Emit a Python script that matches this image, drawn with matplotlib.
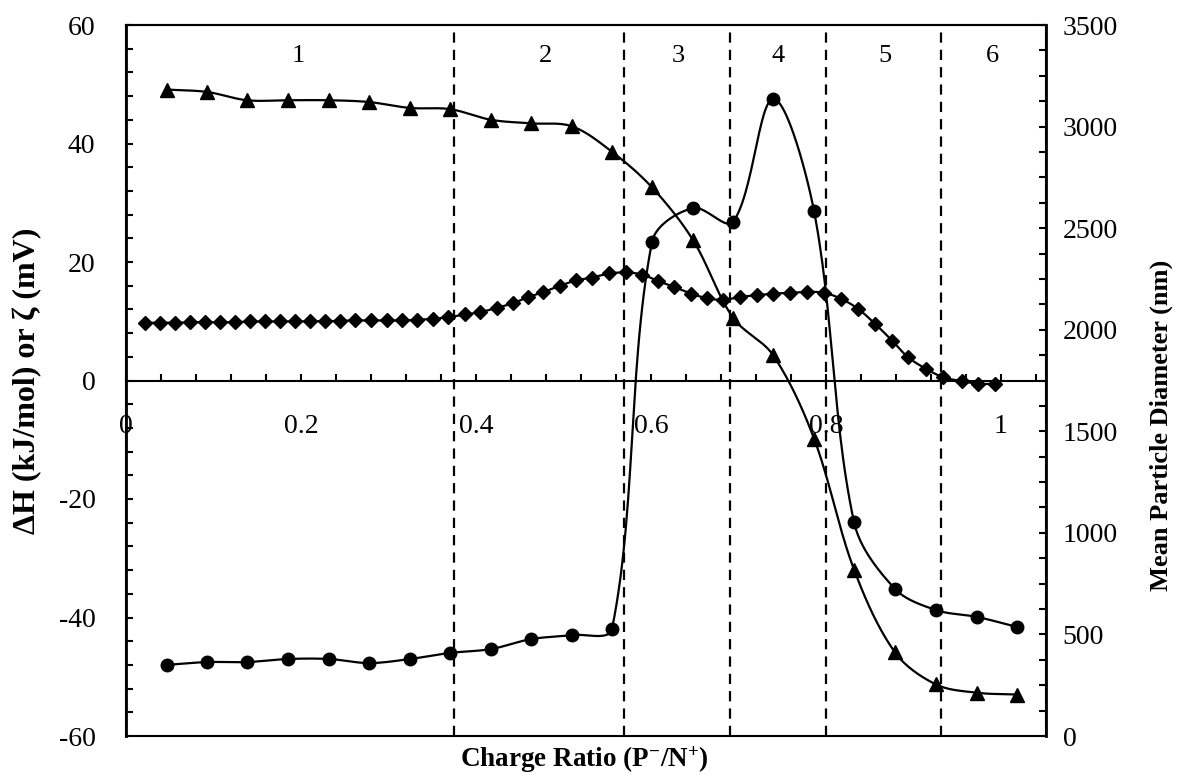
import numpy as np
import matplotlib
matplotlib.use("Agg")
import matplotlib.pyplot as plt
from matplotlib.ticker import MultipleLocator

plt.rcParams['font.family'] = ['Liberation Serif', 'DejaVu Serif']
plt.rcParams['mathtext.default'] = 'regular'
plt.rcParams['axes.unicode_minus'] = False

# Charge ratios for the enthalpy and particle-size series
ratio = [0.0469, 0.0926, 0.1383, 0.1851, 0.2320, 0.2777, 0.3246, 0.3703,
         0.4171, 0.4629, 0.5097, 0.5554, 0.6011, 0.6480, 0.6937, 0.7394,
         0.7863, 0.8320, 0.8789, 0.9257, 0.9726, 1.0183]

# Enthalpy change (kJ/mol), left axis
dH = [49.1, 48.7, 47.3, 47.3, 47.3, 47.0, 46.0, 45.8, 44.0, 43.4, 42.9,
      38.6, 32.6, 23.7, 10.6, 4.3, -9.8, -31.9, -45.9, -51.3, -52.7, -53.0]

# Mean particle diameter (nm), right axis
diameter = [350, 364, 364, 379, 379, 359, 379, 409, 428, 477, 497, 527,
            2432, 2599, 2530, 3136, 2584, 1053, 724, 620, 586, 537]

# Zeta potential (mV), left axis, measured at its own charge ratios
zeta_ratio = [0.0217, 0.0389, 0.0560, 0.0731, 0.0903, 0.1074, 0.1246,
              0.1417, 0.1589, 0.1760, 0.1931, 0.2103, 0.2274, 0.2446,
              0.2617, 0.2800, 0.2983, 0.3154, 0.3326, 0.3509, 0.3680,
              0.3874, 0.4046, 0.4240, 0.4423, 0.4594, 0.4766, 0.4960,
              0.5143, 0.5326, 0.5520, 0.5714, 0.5897, 0.6080, 0.6263,
              0.6457, 0.6640, 0.6823, 0.7017, 0.7211, 0.7394, 0.7589,
              0.7783, 0.7977, 0.8171, 0.8366, 0.8560, 0.8754, 0.8937,
              0.9143, 0.9337, 0.9554, 0.9737, 0.9931]
zeta = [9.74, 9.74, 9.74, 9.84, 9.84, 9.84, 9.84, 9.96, 9.96, 9.96, 10.0,
        10.0, 10.0, 10.08, 10.13, 10.13, 10.13, 10.13, 10.24, 10.41, 10.68,
        11.14, 11.53, 12.27, 13.05, 14.06, 14.9, 16.0, 16.88, 17.38, 18.06,
        18.23, 17.89, 16.8, 15.8, 14.65, 13.9, 13.6, 14.1, 14.4, 14.65,
        14.8, 14.97, 14.8, 13.8, 12.1, 9.57, 6.75, 3.93, 1.97, 0.56, -0.12,
        -0.56, -0.56]

# Region boundaries and region numbers
boundaries = [0.375, 0.569, 0.690, 0.800, 0.931]
region_pos = [0.197, 0.479, 0.631, 0.745, 0.867, 0.990]
region_names = ['1', '2', '3', '4', '5', '6']

XLIM = (0, 1.0514)
YLIM = (-60, 60)
Y2LIM = (0, 3500)
AX_W, AX_H = 920, 711  # axes box size in pixels


def smooth(x, y, ylim, n=30):
    """Smoothed line through the points: cubic Bezier segments whose
    tangents follow the neighbours, scaled by on-screen chord lengths."""
    sx = AX_W / (XLIM[1] - XLIM[0])
    sy = AX_H / (ylim[1] - ylim[0])
    pts = np.column_stack([np.asarray(x) * sx, np.asarray(y) * sy])
    P = np.vstack([pts[0], pts, pts[-1]])
    t = np.linspace(0, 1, n)[:, None]
    segs = []
    for i in range(1, len(P) - 2):
        p0, p1, p2, p3 = P[i - 1], P[i], P[i + 1], P[i + 2]
        d01 = np.hypot(*(p1 - p0))
        d12 = np.hypot(*(p2 - p1))
        d23 = np.hypot(*(p3 - p2))
        f1 = d12 / (d01 + d12) / 3.0 if d01 + d12 > 0 else 0
        f2 = d12 / (d12 + d23) / 3.0 if d12 + d23 > 0 else 0
        c1 = p1 + (p2 - p0) * f1
        c2 = p2 - (p3 - p1) * f2
        segs.append((1 - t) ** 3 * p1 + 3 * (1 - t) ** 2 * t * c1
                    + 3 * (1 - t) * t ** 2 * c2 + t ** 3 * p2)
    s = np.vstack(segs)
    return s[:, 0] / sx, s[:, 1] / sy


fig = plt.figure(figsize=(11.83, 7.75), dpi=100)
ax = fig.add_axes([126 / 1183, 1 - 736 / 775, AX_W / 1183, AX_H / 775])
ax2 = ax.twinx()

lw = 1.6
for b in boundaries:
    ax.axvline(b, color='black', lw=1.6, linestyle=(0, (4.6, 3.2)), zorder=1)

sx, sy = smooth(ratio, dH, YLIM)
ax.plot(sx, sy, color='black', lw=lw, zorder=3)
ax.plot(ratio, dH, linestyle='none', marker='^', ms=10, color='black', zorder=4)

sx, sy = smooth(zeta_ratio, zeta, YLIM)
ax.plot(sx, sy, color='black', lw=lw, zorder=3)
ax.plot(zeta_ratio, zeta, linestyle='none', marker='D', ms=7.5, color='black', zorder=4)

sx, sy = smooth(ratio, diameter, Y2LIM)
ax2.plot(sx, sy, color='black', lw=lw, zorder=3)
ax2.plot(ratio, diameter, linestyle='none', marker='o', ms=9, color='black', zorder=4)

for xpos, name in zip(region_pos, region_names):
    ax.text(xpos, 54.85, name, ha='center', va='center', fontsize=19)

ax.set_xlim(*XLIM)
ax.set_ylim(*YLIM)
ax2.set_ylim(*Y2LIM)

ax.spines['bottom'].set_position(('data', 0))
for sp in ['left', 'right', 'top', 'bottom']:
    ax.spines[sp].set_linewidth(1.5)
    ax2.spines[sp].set_linewidth(1.5)
ax.spines['left'].set_linewidth(2)
ax2.spines['right'].set_linewidth(2)

ax.xaxis.set_minor_locator(MultipleLocator(0.04))
ax.set_xticks([0, 0.2, 0.4, 0.6, 0.8, 1.0])
ax.set_xticklabels(['0', '0.2', '0.4', '0.6', '0.8', '1'])
ax.tick_params(axis='x', which='both', direction='in', length=5, width=1.5,
               labelsize=20, pad=24)

ax.yaxis.set_major_locator(MultipleLocator(20))
ax.yaxis.set_minor_locator(MultipleLocator(4))
ax.tick_params(axis='y', which='both', direction='in', length=5, width=1.5,
               labelsize=20, pad=22)

ax2.yaxis.set_major_locator(MultipleLocator(500))
ax2.yaxis.set_minor_locator(MultipleLocator(125))
ax2.tick_params(axis='y', which='both', direction='in', length=5, width=1.5,
                labelsize=20, pad=12)

fig.text(28 / 1183, 1 - 381 / 775, 'ΔH (kJ/mol) or ζ (mV)', rotation=90,
         ha='center', va='center', fontsize=23, fontweight='bold')
fig.text(1161 / 1183, 1 - 425 / 775, 'Mean Particle Diameter (nm)', rotation=90,
         ha='center', va='center', fontsize=19, fontweight='bold')
fig.text(584 / 1183, 1 - 760 / 775, 'Charge Ratio (P$^{-}$/N$^{+}$)',
         ha='center', va='center', fontsize=19.5, fontweight='bold')

fig.savefig('out.png', dpi=100)
